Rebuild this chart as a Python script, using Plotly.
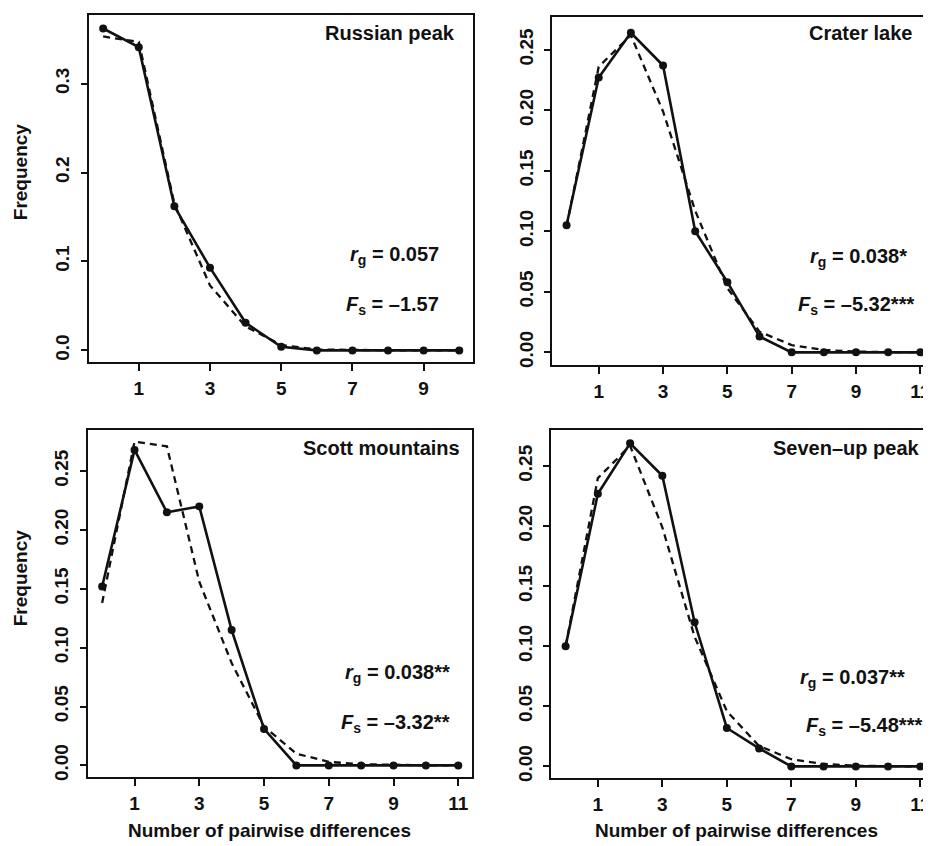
import plotly.graph_objects as go

PAGE_W, PAGE_H = 931, 846
OFF = 8  # default page body margin
W, H = PAGE_W - OFF, PAGE_H - OFF

# ---------------- data ----------------
x_russian = [0, 1, 2, 3, 4, 5, 6, 7, 8, 9, 10]
obs_russian = [0.362, 0.341, 0.162, 0.093, 0.031, 0.004, 0.0, 0.0, 0.0, 0.0, 0.0]
exp_russian = [0.353, 0.347, 0.165, 0.073, 0.027, 0.006, 0.001, 0.0003, 0.0001, 0.0, 0.0]

x_crater = [0, 1, 2, 3, 4, 5, 6, 7, 8, 9, 10, 11]
obs_crater = [0.105, 0.227, 0.264, 0.237, 0.100, 0.058, 0.013, 0.0, 0.0, 0.0, 0.0, 0.0]
exp_crater = [0.104, 0.236, 0.262, 0.199, 0.117, 0.053, 0.017, 0.006, 0.002, 0.0006, 0.0002, 0.0001]

x_scott = [0, 1, 2, 3, 4, 5, 6, 7, 8, 9, 10, 11]
obs_scott = [0.152, 0.268, 0.215, 0.220, 0.115, 0.031, 0.0, 0.0, 0.0, 0.0, 0.0, 0.0]
exp_scott = [0.138, 0.275, 0.271, 0.156, 0.087, 0.033, 0.010, 0.003, 0.001, 0.0003, 0.0001, 0.0]

x_seven = [0, 1, 2, 3, 4, 5, 6, 7, 8, 9, 10, 11]
obs_seven = [0.100, 0.227, 0.269, 0.242, 0.120, 0.032, 0.015, 0.0, 0.0, 0.0, 0.0, 0.0]
exp_seven = [0.100, 0.240, 0.267, 0.199, 0.108, 0.046, 0.017, 0.006, 0.002, 0.0006, 0.0002, 0.0001]

titles = ["Russian peak", "Crater lake", "Scott mountains", "Seven\u2013up peak"]
rg_text = ["0.057", "0.038*", "0.038**", "0.037**"]
fs_text = ["\u20131.57", "\u20135.32***", "\u20133.32**", "\u20135.48***"]

xticks_russian = [1, 3, 5, 7, 9]
xticks_other = [1, 3, 5, 7, 9, 11]
yticks_russian = [0.0, 0.1, 0.2, 0.3]
yticklabels_russian = ["0.0", "0.1", "0.2", "0.3"]
yticks_other = [0.0, 0.05, 0.10, 0.15, 0.20, 0.25]
yticklabels_other = ["0.00", "0.05", "0.10", "0.15", "0.20", "0.25"]

xlabel = "Number of pairwise differences"
ylabel = "Frequency"

# ---------------- layout geometry (page pixels) ----------------
panels = [
    dict(x=x_russian, obs=obs_russian, exp=exp_russian, px=(89, 474), py=(15, 364),
         xr=[-0.4, 10.4], yr=[-0.0134, 0.3772], xt=xticks_russian,
         yt=yticks_russian, ytl=yticklabels_russian, left=True,
         title_pos=(457, 33), rg_pos=(441, 257), fs_pos=(441, 307)),
    dict(x=x_crater, obs=obs_crater, exp=exp_crater, px=(553, 931), py=(17, 367),
         xr=[-0.44, 11.3], yr=[-0.0107, 0.2771], xt=xticks_other,
         yt=yticks_other, ytl=yticklabels_other, left=False,
         title_pos=(915, 33), rg_pos=(910, 259), fs_pos=(917, 307)),
    dict(x=x_scott, obs=obs_scott, exp=exp_scott, px=(88, 473), py=(432, 781),
         xr=[-0.44, 11.44], yr=[-0.0101, 0.2849], xt=xticks_other,
         yt=yticks_other, ytl=yticklabels_other, left=True,
         title_pos=(462, 450), rg_pos=(452, 677), fs_pos=(452, 727)),
    dict(x=x_seven, obs=obs_seven, exp=exp_seven, px=(552, 931), py=(432, 782),
         xr=[-0.44, 11.3], yr=[-0.0099, 0.2801], xt=xticks_other,
         yt=yticks_other, ytl=yticklabels_other, left=False,
         title_pos=(923, 450), rg_pos=(908, 682), fs_pos=(925, 730)),
]

FONT = "Liberation Sans, Arial, sans-serif"
INK = "#111111"

fig = go.Figure()
layout = dict(
    width=W, height=H,
    margin=dict(l=0, r=0, t=0, b=0),
    paper_bgcolor="white", plot_bgcolor="white",
    showlegend=False,
    font=dict(family=FONT, color=INK, size=19),
)
annotations = []


def fx(p):
    return (p - OFF) / W


def fy(p):
    return 1 - (p - OFF) / H


def b(s):
    return f"<b>{s}</b>"


for i, p in enumerate(panels):
    n = i + 1
    xa = "x" if n == 1 else f"x{n}"
    ya = "y" if n == 1 else f"y{n}"
    xkey = "xaxis" if n == 1 else f"xaxis{n}"
    ykey = "yaxis" if n == 1 else f"yaxis{n}"

    fig.add_trace(go.Scatter(
        x=p["x"], y=p["exp"], mode="lines", xaxis=xa, yaxis=ya,
        line=dict(color=INK, width=2.3, dash="7px,5px"), hoverinfo="skip"))
    fig.add_trace(go.Scatter(
        x=p["x"], y=p["obs"], mode="lines+markers", xaxis=xa, yaxis=ya,
        line=dict(color=INK, width=2.6), marker=dict(color=INK, size=8),
        cliponaxis=False))

    layout[xkey] = dict(
        domain=[max(0, fx(p["px"][0])), min(1, fx(p["px"][1]))], range=p["xr"], anchor=ya,
        tickmode="array", tickvals=p["xt"], ticktext=[b(v) for v in p["xt"]],
        ticks="outside", ticklen=7, tickwidth=1.8, tickcolor=INK,
        showline=True, linewidth=2.2, linecolor=INK, mirror=True,
        showgrid=False, zeroline=False,
        tickfont=dict(family=FONT, size=19, color=INK),
        ticklabelstandoff=1, ticklabeloverflow="allow",
    )
    layout[ykey] = dict(
        domain=[fy(p["py"][1]), fy(p["py"][0])], range=p["yr"], anchor=xa,
        tickmode="array", tickvals=p["yt"], ticktext=[b(t) for t in p["ytl"]],
        ticks="outside", ticklen=6, tickwidth=1.8, tickcolor=INK,
        showline=True, linewidth=2.2, linecolor=INK, mirror=p["left"],
        showgrid=False, zeroline=False, tickangle=-90,
        tickfont=dict(family=FONT, size=19, color=INK),
        ticklabelstandoff=4, ticklabeloverflow="allow",
    )

    tx, ty = p["title_pos"]
    annotations.append(dict(text=b(titles[i]), x=fx(tx), y=fy(ty), xref="paper", yref="paper",
                            xanchor="right", yanchor="middle", showarrow=False,
                            font=dict(family=FONT, size=20, color=INK)))
    rx, ry = p["rg_pos"]
    annotations.append(dict(text=b(f"<i>r</i><sub>g</sub> = {rg_text[i]}"), x=fx(rx), y=fy(ry),
                            xref="paper", yref="paper", xanchor="right", yanchor="middle",
                            showarrow=False, font=dict(family=FONT, size=20, color=INK)))
    sx, sy = p["fs_pos"]
    annotations.append(dict(text=b(f"<i>F</i><sub>s</sub> = {fs_text[i]}"), x=fx(sx), y=fy(sy),
                            xref="paper", yref="paper", xanchor="right", yanchor="middle",
                            showarrow=False, font=dict(family=FONT, size=20, color=INK)))

# axis titles
for (cx, cy) in [(20, 172), (20, 580)]:
    annotations.append(dict(text=b(ylabel), x=fx(cx), y=fy(cy), xref="paper", yref="paper",
                            xanchor="center", yanchor="middle", textangle=-90, showarrow=False,
                            font=dict(family=FONT, size=19, color=INK)))
for (cx, cy) in [(270, 834), (737, 834)]:
    annotations.append(dict(text=b(xlabel), x=fx(cx), y=fy(cy), xref="paper", yref="paper",
                            xanchor="center", yanchor="middle", showarrow=False,
                            font=dict(family=FONT, size=19, color=INK)))

layout["annotations"] = annotations
fig.update_layout(**layout)
fig.write_html("out.html")
